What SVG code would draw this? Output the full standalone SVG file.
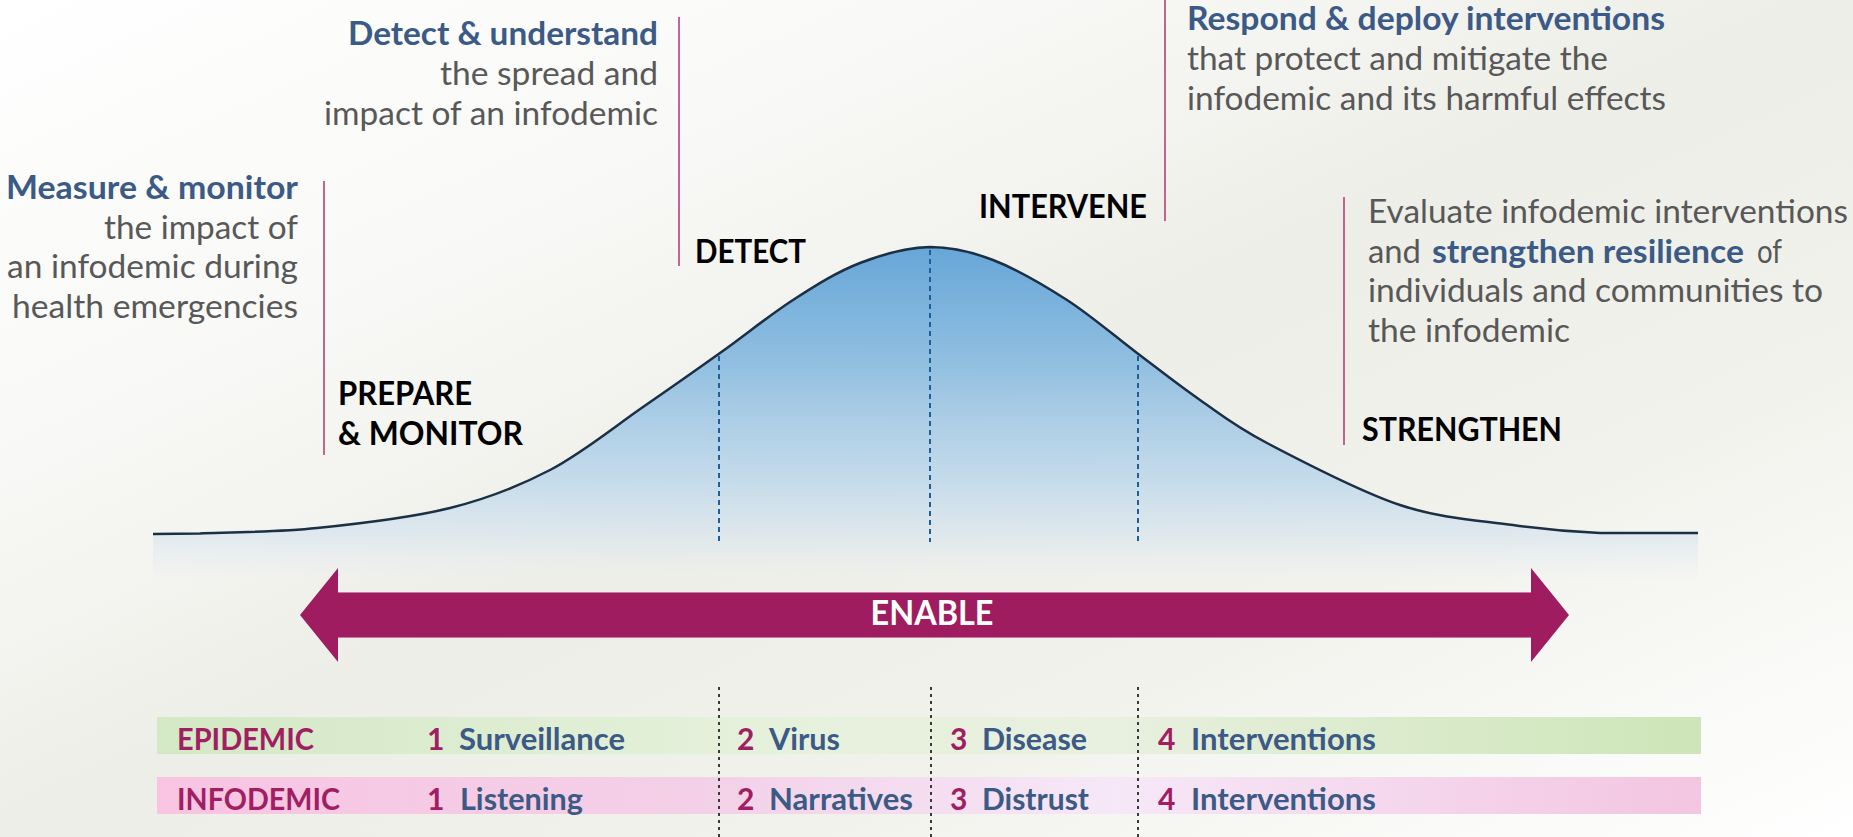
<svg xmlns="http://www.w3.org/2000/svg" width="1853" height="837" viewBox="0 0 1853 837">
<defs>
<linearGradient id="bg" gradientUnits="userSpaceOnUse" x1="612" y1="-276" x2="1240" y2="1113">
<stop offset="0" stop-color="#ffffff"/>
<stop offset="0.28" stop-color="#f8f8f6"/>
<stop offset="0.5" stop-color="#eeeee8"/>
<stop offset="0.72" stop-color="#f2f2ed"/>
<stop offset="1" stop-color="#ffffff"/>
</linearGradient>
<linearGradient id="bell" gradientUnits="userSpaceOnUse" x1="0" y1="247" x2="0" y2="580">
<stop offset="0" stop-color="#66a6d8"/>
<stop offset="0.35" stop-color="#8dbde0" stop-opacity="0.96"/>
<stop offset="0.7" stop-color="#b9d5ea" stop-opacity="0.78"/>
<stop offset="0.86" stop-color="#cfe0ee" stop-opacity="0.55"/>
<stop offset="1" stop-color="#dde9f2" stop-opacity="0"/>
</linearGradient>
<linearGradient id="epi" x1="0" y1="0" x2="1" y2="0">
<stop offset="0" stop-color="#d3e8c5"/>
<stop offset="0.4" stop-color="#e6f1dc"/>
<stop offset="0.62" stop-color="#e8f0df"/>
<stop offset="1" stop-color="#cde5b8"/>
</linearGradient>
<linearGradient id="info" x1="0" y1="0" x2="1" y2="0">
<stop offset="0" stop-color="#f8c4e2"/>
<stop offset="0.35" stop-color="#f3d0e7"/>
<stop offset="0.62" stop-color="#f6e8f8"/>
<stop offset="1" stop-color="#f3c5e0"/>
</linearGradient>
<style>
text{font-family:Lato,"Open Sans","Liberation Sans",sans-serif}
.h{font-weight:700;font-size:32px;fill:#3b5a85}
.b{font-weight:400;font-size:32px;fill:#585858}
.lab{font-weight:700;font-size:32px;fill:#000000}
.row{font-weight:700;font-size:30px}
.mag{fill:#a01e62}
.blu{fill:#3b5a85}
.lead{stroke:#b5407a;stroke-width:1.6;fill:none}
.dblue{stroke:#1e5f9a;stroke-width:2;stroke-dasharray:5 4;fill:none}
.dgray{stroke:#3a3a3a;stroke-width:2;stroke-dasharray:3 4;fill:none}
</style>
</defs>
<rect x="0" y="0" width="1853" height="837" fill="url(#bg)"/>

<g id="bell-curve">
<path d="M153,534 L200,533.5 C227.3,532.5 275.3,532.25 317,528 C358.7,523.75 411.2,517.7 450,508 C488.8,498.3 517.8,486.8 550,470 C582.2,453.2 614.7,426.5 643,407 C671.3,387.5 695,370.8 720,353 C745,335.2 769.7,315 793,300 C816.3,285 837.2,271.8 860,263 C882.8,254.2 907.8,247.5 930,247 C952,247 970.2,251.2 993,260 C1015.8,268.8 1043,284.5 1067,300 C1091,315.5 1114.8,336.3 1137,353 C1159.2,369.7 1178.3,385 1200,400 C1221.7,415 1233.7,425.5 1267,443 C1300.3,460.5 1359,491.3 1400,505 C1441,518.7 1479.7,520.3 1513,525 C1546.3,529.7 1569.2,531.7 1600,533 L1698,533 L1698,580 L153,580 Z" fill="url(#bell)"/>
<path d="M153,534 L200,533.5 C227.3,532.5 275.3,532.25 317,528 C358.7,523.75 411.2,517.7 450,508 C488.8,498.3 517.8,486.8 550,470 C582.2,453.2 614.7,426.5 643,407 C671.3,387.5 695,370.8 720,353 C745,335.2 769.7,315 793,300 C816.3,285 837.2,271.8 860,263 C882.8,254.2 907.8,247.5 930,247 C952,247 970.2,251.2 993,260 C1015.8,268.8 1043,284.5 1067,300 C1091,315.5 1114.8,336.3 1137,353 C1159.2,369.7 1178.3,385 1200,400 C1221.7,415 1233.7,425.5 1267,443 C1300.3,460.5 1359,491.3 1400,505 C1441,518.7 1479.7,520.3 1513,525 C1546.3,529.7 1569.2,531.7 1600,533 L1698,533" fill="none" stroke="#1c2f45" stroke-width="2.5"/>
</g>

<g id="measure-monitor">
<text class="h" x="298" y="199" text-anchor="end" textLength="292" lengthAdjust="spacingAndGlyphs">Measure &amp; monitor</text>
<text class="b" x="298" y="239" text-anchor="end" textLength="194" lengthAdjust="spacingAndGlyphs">the impact of</text>
<text class="b" x="298" y="278" text-anchor="end" textLength="291" lengthAdjust="spacingAndGlyphs">an infodemic during</text>
<text class="b" x="298" y="318" text-anchor="end" textLength="286" lengthAdjust="spacingAndGlyphs">health emergencies</text>
</g>

<g id="detect-understand">
<text class="h" x="658" y="45" text-anchor="end" textLength="310" lengthAdjust="spacingAndGlyphs">Detect &amp; understand</text>
<text class="b" x="658" y="85" text-anchor="end" textLength="218" lengthAdjust="spacingAndGlyphs">the spread and</text>
<text class="b" x="658" y="125" text-anchor="end" textLength="334" lengthAdjust="spacingAndGlyphs">impact of an infodemic</text>
</g>

<g id="respond-deploy">
<text class="h" x="1187" y="30" textLength="478" lengthAdjust="spacingAndGlyphs">Respond &amp; deploy interventions</text>
<text class="b" x="1187" y="70" textLength="421" lengthAdjust="spacingAndGlyphs">that protect and mitigate the</text>
<text class="b" x="1187" y="110" textLength="479" lengthAdjust="spacingAndGlyphs">infodemic and its harmful effects</text>
</g>

<g id="evaluate-strengthen">
<text class="b" x="1368" y="223" textLength="480" lengthAdjust="spacingAndGlyphs">Evaluate infodemic interventions</text>
<text class="b" x="1368" y="263" textLength="53" lengthAdjust="spacingAndGlyphs">and</text>
<text class="h" x="1432" y="263" textLength="312" lengthAdjust="spacingAndGlyphs">strengthen resilience</text>
<text class="b" x="1757" y="263" textLength="25" lengthAdjust="spacingAndGlyphs">of</text>
<text class="b" x="1368" y="302" textLength="455" lengthAdjust="spacingAndGlyphs">individuals and communities to</text>
<text class="b" x="1368" y="342" textLength="202" lengthAdjust="spacingAndGlyphs">the infodemic</text>
</g>

<g id="prepare-monitor">
<text class="lab" x="338" y="405" textLength="134" lengthAdjust="spacingAndGlyphs">PREPARE</text>
<text class="lab" x="338" y="445" textLength="185" lengthAdjust="spacingAndGlyphs">&amp; MONITOR</text>
</g>
<g id="detect">
<text class="lab" x="695" y="263" textLength="111" lengthAdjust="spacingAndGlyphs">DETECT</text>
</g>
<g id="intervene">
<text class="lab" x="979" y="218" textLength="168" lengthAdjust="spacingAndGlyphs">INTERVENE</text>
</g>
<g id="strengthen">
<text class="lab" x="1362" y="441" textLength="200" lengthAdjust="spacingAndGlyphs">STRENGTHEN</text>
</g>

<g id="enable-arrow">
<path d="M300,615 L338,568 L338,592 L1531,592 L1531,568 L1569,615 L1531,662 L1531,638 L338,638 L338,662 Z" fill="#9e1c5f"/>
<line x1="338" y1="592.5" x2="1531" y2="592.5" stroke="#c97aa2" stroke-width="1"/>
<line x1="338" y1="637.5" x2="1531" y2="637.5" stroke="#c97aa2" stroke-width="1"/>
<text x="932" y="625" text-anchor="middle" font-weight="700" font-size="34" fill="#ffffff" textLength="123" lengthAdjust="spacingAndGlyphs">ENABLE</text>
</g>

<g id="epidemic-row">
<rect x="157" y="717" width="1544" height="37" fill="url(#epi)"/>
<text class="row mag" x="177" y="750" textLength="137" lengthAdjust="spacingAndGlyphs">EPIDEMIC</text>
<text class="row mag" x="427" y="750">1</text>
<text class="row blu" x="459" y="750" textLength="166" lengthAdjust="spacingAndGlyphs">Surveillance</text>
<text class="row mag" x="737" y="750">2</text>
<text class="row blu" x="769" y="750" textLength="71" lengthAdjust="spacingAndGlyphs">Virus</text>
<text class="row mag" x="950" y="750">3</text>
<text class="row blu" x="982" y="750" textLength="105" lengthAdjust="spacingAndGlyphs">Disease</text>
<text class="row mag" x="1158" y="750">4</text>
<text class="row blu" x="1191" y="750" textLength="185" lengthAdjust="spacingAndGlyphs">Interventions</text>
</g>

<g id="infodemic-row">
<rect x="157" y="777" width="1544" height="37" fill="url(#info)"/>
<text class="row mag" x="177" y="810" textLength="163" lengthAdjust="spacingAndGlyphs">INFODEMIC</text>
<text class="row mag" x="427" y="810">1</text>
<text class="row blu" x="460" y="810" textLength="123" lengthAdjust="spacingAndGlyphs">Listening</text>
<text class="row mag" x="737" y="810">2</text>
<text class="row blu" x="769" y="810" textLength="144" lengthAdjust="spacingAndGlyphs">Narratives</text>
<text class="row mag" x="950" y="810">3</text>
<text class="row blu" x="982" y="810" textLength="107" lengthAdjust="spacingAndGlyphs">Distrust</text>
<text class="row mag" x="1158" y="810">4</text>
<text class="row blu" x="1191" y="810" textLength="185" lengthAdjust="spacingAndGlyphs">Interventions</text>
</g>

<g id="connectors">
<line class="lead" x1="324" y1="181" x2="324" y2="455"/>
<line class="lead" x1="679" y1="17" x2="679" y2="266"/>
<line class="lead" x1="1165" y1="0" x2="1165" y2="221"/>
<line class="lead" x1="1344" y1="197" x2="1344" y2="445"/>
<line class="dblue" x1="719" y1="356" x2="719" y2="542"/>
<line class="dblue" x1="930" y1="250" x2="930" y2="542"/>
<line class="dblue" x1="1138" y1="356" x2="1138" y2="542"/>
<line class="dgray" x1="719" y1="687" x2="719" y2="837"/>
<line class="dgray" x1="931" y1="687" x2="931" y2="837"/>
<line class="dgray" x1="1138" y1="687" x2="1138" y2="837"/>
</g>
</svg>
